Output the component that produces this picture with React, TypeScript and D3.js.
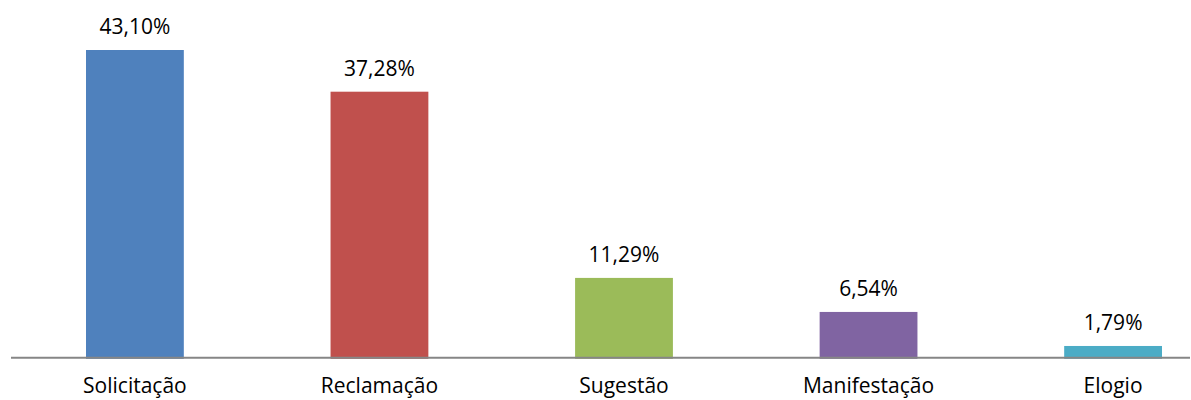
import React from "react";
import * as d3 from "d3";

const categories = ["Solicitação", "Reclamação", "Sugestão", "Manifestação", "Elogio"];
const values = [43.1, 37.28, 11.29, 6.54, 1.79];
const labels = ["43,10%", "37,28%", "11,29%", "6,54%", "1,79%"];
const colors = ["#4F81BD", "#C0504D", "#9BBB59", "#8064A2", "#4BACC6"];

const W = 1191;
const H = 400;
const baseY = 358.8;
const FONT = "'Open Sans', sans-serif";

export default function App() {
  const x = d3.scaleBand<string>().domain(categories).range([86, 1162]).paddingInner(0.6).paddingOuter(0);
  const y = d3.scaleLinear().domain([0, 43.1]).range([baseY, 50]);
  return (
    <svg width={W} height={H} style={{ position: "absolute", left: 0, top: 0, background: "#fff" }}>
      {categories.map((c, i) => (
        <g key={c}>
          <rect
            x={x(c)!}
            y={y(values[i])}
            width={x.bandwidth()}
            height={baseY - y(values[i])}
            fill={colors[i]}
          />
          <text
            x={x(c)! + x.bandwidth() / 2}
            y={y(values[i]) - 16}
            textAnchor="middle"
            fontFamily={FONT}
            fontSize={21}
            fill="#000"
          >
            {labels[i]}
          </text>
          <text
            x={x(c)! + x.bandwidth() / 2}
            y={393}
            textAnchor="middle"
            fontFamily={FONT}
            fontSize={21}
            fill="#000"
          >
            {c}
          </text>
        </g>
      ))}
      <line x1={11} x2={1190} y1={357.8} y2={357.8} stroke="#868686" strokeWidth={2} />
    </svg>
  );
}
